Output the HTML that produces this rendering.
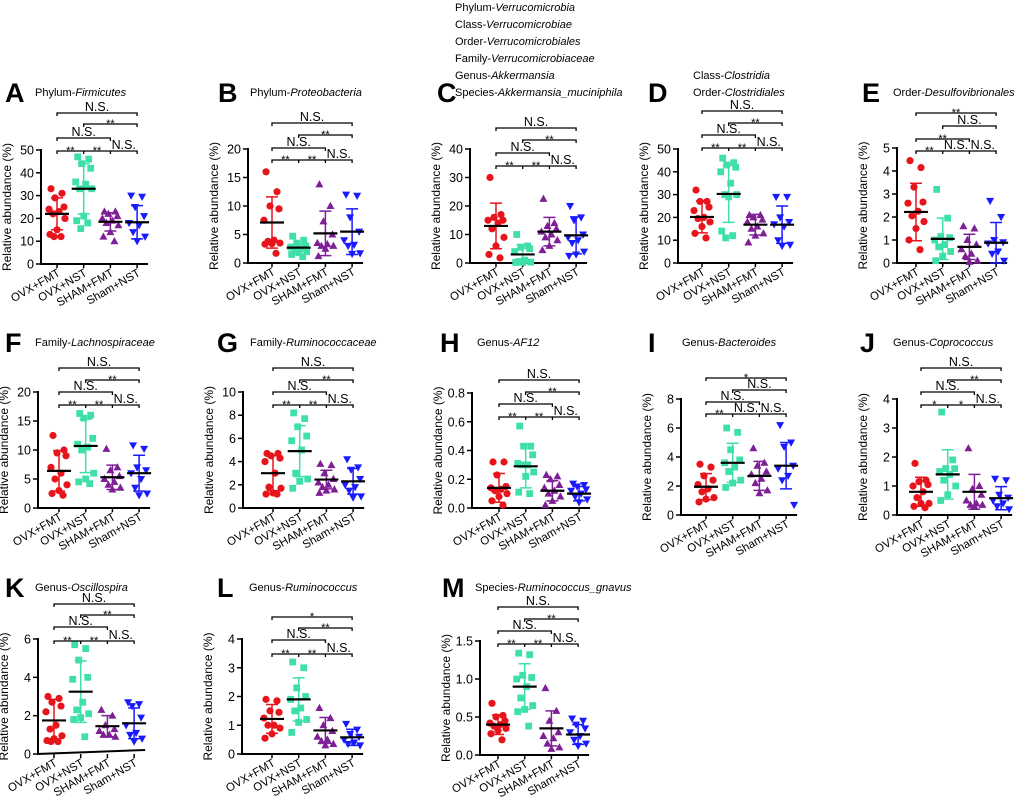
<!DOCTYPE html>
<html><head><meta charset="utf-8"><style>
body{margin:0;background:#fff}
svg{display:block;font-family:"Liberation Sans",Arial,sans-serif}
</style></head><body>
<svg id="fig" width="1020" height="804" viewBox="0 0 1020 804" xmlns="http://www.w3.org/2000/svg"></svg>
<script>
const categories=["OVX+FMT","OVX+NST","SHAM+FMT","Sham+NST"];
const colors=["#e8141c","#3ee0a8","#7e1f96","#1a1aff"];
// Panel data
const A_means=[22,33,18.5,18.3];const A_sd=[7,11,4,7.3];
const A_points=[[33,31,29,25,24,23,22,20,15,13,12,12],[47,46,44,42,36,35,33,33,21,19,18,15.5],[23,23,22,21,20,19,18,17,14,12,10],[30,29.5,25,21,18,17,14,12,10]];
const A_ticks=[0,10,20,30,40,50];const A_tickLabels=["0","10","20","30","40","50"];
const B_means=[7.1,2.7,5.2,5.5];const B_sd=[4.5,0.6,3.9,4];
const B_points=[[16,12.5,10,9.5,7.5,4,3.8,3.5,3.4,3.3,1.7],[4.7,4,3.5,3,2.8,2.5,2.2,2,1.8,1.5,1.1],[13.8,10,7.3,5,3.5,3.3,3,3,2.5,1.2],[12,11.8,8,5.5,4,3.2,3,1.7,1.6]];
const B_ticks=[0,5,10,15,20];const B_tickLabels=["0","5","10","15","20"];
const C_means=[13,3,11,9.7];const C_sd=[8,3.5,5,6.5];
const C_points=[[30,17,16,15,15,14,12,9,6,3,1.8],[10,6,5.5,5,4,1,0.5,0.3,0.2,0.2],[22.5,14,13,12,11,10,9,8,6,4.5],[20,16,15,10,9,8,7,4,3,2.5]];
const C_ticks=[0,10,20,30,40];const C_tickLabels=["0","10","20","30","40"];
const D_means=[20.2,30.3,16.8,16.8];const D_sd=[7,12.5,4.5,8.2];
const D_points=[[32,27,27,24.5,23,20,19.5,18,16,13,11],[46,44,43,42,40,35,30,30,29,14,12,11],[21,21,20,19,18,16,15,13,12,9],[29,29,20,18,17,16,10,8,7.5]];
const D_ticks=[0,10,20,30,40,50];const D_tickLabels=["0","10","20","30","40","50"];
const E_means=[2.22,1.05,0.7,0.88];const E_sd=[1.25,0.9,0.55,0.88];
const E_points=[[4.45,4.15,3.3,2.65,2.6,2.25,2.05,1.8,1.5,1.0,0.58],[3.2,1.95,1.15,1.1,1.0,0.8,0.7,0.5,0.3,0.1],[1.6,1.5,1.0,0.8,0.6,0.4,0.3,0.1,0.05],[2.7,2.0,1.0,0.9,0.85,0.5,0.4,0.1]];
const E_ticks=[0,1,2,3,4,5];const E_tickLabels=["0","1","2","3","4","5"];
const F_means=[6.4,10.7,5.3,6];const F_sd=[3.5,4.6,2.1,3.1];
const F_points=[[12.5,10,9.5,9,7,6,5,4,3,2.5,2.2],[16.3,16,15.5,12,11,10.5,10,6,5,4.5,4.2],[10.2,7,6.5,5.5,5,4.5,4,3.5,3.2],[10.8,10.2,7,6.5,6,5,3.5,2.5,2.2]];
const F_ticks=[0,5,10,15,20];const F_tickLabels=["0","5","10","15","20"];
const G_means=[3.0,4.9,2.45,2.3];const G_sd=[1.5,2.2,0.8,1.1];
const G_points=[[4.7,4.7,4.5,4.3,4.0,3.0,1.8,1.7,1.3,1.2,1.2],[8.2,7.7,7,6.2,5.8,5,3,2.5,2.3,1.7],[3.8,3.7,3,2.5,2.2,2,1.8,1.6,1.5,1.3],[4.2,3.5,3.3,2.5,2,1.8,1.5,1,0.9]];
const G_ticks=[0,2,4,6,8,10];const G_tickLabels=["0","2","4","6","8","10"];
const H_means=[0.14,0.29,0.12,0.10];const H_sd=[0.1,0.15,0.07,0.05];
const H_points=[[.32,.32,.23,.15,.14,.13,.12,.1,.08,.05,.02],[.57,.43,.43,.37,.31,.3,.3,.25,.22,.11,.1],[.23,.22,.2,.16,.14,.12,.1,.08,.05,.02],[.17,.16,.15,.13,.12,.1,.08,.06,.04]];
const H_ticks=[0,0.2,0.4,0.6,0.8];const H_tickLabels=["0.0","0.2","0.4","0.6","0.8"];
const I_means=[1.95,3.6,2.7,3.4];const I_sd=[0.9,1.35,1.0,1.6];
const I_points=[[3.5,3.3,2.7,2.4,2.1,1.8,1.6,1.2,1.1,0.9],[6,5.7,4.5,3.8,3.6,3.3,3,2.4,2.2,1.9],[4.6,3.6,3.4,3,2.8,2.5,2.2,1.7,1.5],[6.2,5,4.7,3.4,3.2,2.7,2.4,0.7]];
const I_ticks=[0,2,4,6,8];const I_tickLabels=["0","2","4","6","8"];
const J_means=[0.8,1.4,0.8,0.58];const J_sd=[0.5,0.85,0.6,0.4];
const J_points=[[1.78,1.2,1.15,1.05,1.0,.8,.6,.4,.4,.3,.25],[3.55,1.9,1.6,1.6,1.5,1.4,1.2,1.0,.7,.5],[2.3,1.0,.9,.7,.5,.4,.35,.35,.3],[1.25,1.2,.7,.6,.5,.4,.3,.2]];
const J_ticks=[0,1,2,3,4];const J_tickLabels=["0","1","2","3","4"];
const K_means=[1.75,3.25,1.45,1.6];const K_sd=[1.1,1.6,0.55,0.8];
const K_points=[[3,2.9,2.7,2.5,2.2,1.5,1.3,0.95,0.8,0.7,0.65,0.65],[5.7,5.5,4.9,4,3.9,2.7,2.3,2.1,1.9,1.8,0.9],[2.3,2.0,1.5,1.3,1.2,1.0,1.0,0.9],[2.7,2.6,2.5,1.9,1.5,1.1,1.0,0.8,0.65]];
const K_ticks=[0,2,4,6];const K_tickLabels=["0","2","4","6"];
const L_means=[1.22,1.9,0.82,0.58];const L_sd=[0.5,0.75,0.45,0.28];
const L_points=[[1.9,1.85,1.5,1.45,1.25,1.0,1.0,.9,.7,.55],[3.2,3.0,2.3,2.0,1.9,1.6,1.5,1.2,1.1,.75],[1.6,1.25,1.0,.8,.6,.5,.45,.35,.3],[1.05,.85,.7,.6,.5,.4,.35,.3]];
const L_ticks=[0,1,2,3,4];const L_tickLabels=["0","1","2","3","4"];
const M_means=[0.4,0.9,0.35,0.27];const M_sd=[0.13,0.3,0.23,0.13];
const M_points=[[.68,.52,.5,.45,.42,.4,.38,.35,.32,.28,.2],[1.34,1.32,1.05,1.02,1.0,.9,.75,.65,.6,.57,.38],[.88,.58,.45,.3,.25,.22,.15,.1,.08],[.48,.45,.4,.35,.3,.25,.2,.15,.12]];
const M_ticks=[0,0.5,1.0,1.5];const M_tickLabels=["0.0","0.5","1.0","1.5"];
const sigStd=[["**","**","N.S."],"N.S.","**","N.S."];

const NS="http://www.w3.org/2000/svg";
const svg=document.getElementById('fig');
function mk(tag,attrs,parent,text){const e=document.createElementNS(NS,tag);for(const k in attrs)e.setAttribute(k,attrs[k]);if(text!==undefined)e.textContent=text;(parent||svg).appendChild(e);return e;}

const panels=[
 {id:"a",L:"A",ax:41,g0:57,top:150,zero:264,max:50,m:A_means,sd:A_sd,p:A_points,t:A_ticks,tl:A_tickLabels,br:[151,138,124,113],sig:sigStd,lx:5,tx:35,ty:92,title:[["Phylum-",["Firmicutes"]]]},
 {id:"b",L:"B",ax:248,g0:272,top:149,zero:263,max:20,m:B_means,sd:B_sd,p:B_points,t:B_ticks,tl:B_tickLabels,br:[160,148,135,123],sig:sigStd,lx:218,tx:250,ty:92,title:[["Phylum-",["Proteobacteria"]]]},
 {id:"c",L:"C",ax:470,g0:496,top:149,zero:263,max:40,m:C_means,sd:C_sd,p:C_points,t:C_ticks,tl:C_tickLabels,br:[166,153,140,128],sig:sigStd,lx:437,tx:455,ty:92,title:[["Phylum-",["Verrucomicrobia"]],["Class-",["Verrucomicrobiae"]],["Order-",["Verrucomicrobiales"]],["Family-",["Verrucomicrobiaceae"]],["Genus-",["Akkermansia"]],["Species-",["Akkermansia_muciniphila"]]]},
 {id:"d",L:"D",ax:678,g0:702,top:149,zero:263,max:50,m:D_means,sd:D_sd,p:D_points,t:D_ticks,tl:D_tickLabels,br:[148,135,123,111],sig:sigStd,lx:648,tx:693,ty:92,title:[["Class-",["Clostridia"]],["Order-",["Clostridiales"]]]},
 {id:"e",L:"E",ax:897,g0:916,top:148,zero:263,max:5,m:E_means,sd:E_sd,p:E_points,t:E_ticks,tl:E_tickLabels,br:[151,139,126,113],sig:[["**","N.S.","N.S."],"**","N.S.","**"],lx:862,tx:893,ty:92,title:[["Order-",["Desulfovibrionales"]]]},
 {id:"f",L:"F",ax:38,g0:59,top:392,zero:508,max:20,m:F_means,sd:F_sd,p:F_points,t:F_ticks,tl:F_tickLabels,br:[405,392,380,368],sig:sigStd,lx:5,tx:35,ty:342,title:[["Family-",["Lachnospiraceae"]]]},
 {id:"g",L:"G",ax:243,g0:273,top:392,zero:508,max:10,m:G_means,sd:G_sd,p:G_points,t:G_ticks,tl:G_tickLabels,br:[405,392,380,368],sig:sigStd,lx:217,tx:250,ty:342,title:[["Family-",["Ruminococcaceae"]]]},
 {id:"h",L:"H",ax:472,g0:499,top:393,zero:508,max:0.8,m:H_means,sd:H_sd,p:H_points,t:H_ticks,tl:H_tickLabels,br:[417,404,392,380],sig:sigStd,lx:440,tx:477,ty:342,title:[["Genus-",["AF12"]]]},
 {id:"i",L:"I",ax:681,g0:706,top:399,zero:515,max:8,m:I_means,sd:I_sd,p:I_points,t:I_ticks,tl:I_tickLabels,br:[414,402,390,378],sig:[["**","N.S.","N.S."],"N.S.","N.S.","*"],lx:648,tx:682,ty:342,title:[["Genus-",["Bacteroides"]]]},
 {id:"j",L:"J",ax:897,g0:921,top:399,zero:515,max:4,m:J_means,sd:J_sd,p:J_points,t:J_ticks,tl:J_tickLabels,br:[405,392,380,368],sig:[["*","*","N.S."],"N.S.","**","N.S."],lx:860,tx:893,ty:342,title:[["Genus-",["Coprococcus"]]]},
 {id:"k",L:"K",ax:38,g0:54,top:639,zero:754,max:6,m:K_means,sd:K_sd,p:K_points,t:K_ticks,tl:K_tickLabels,br:[641,627,615,604],sig:sigStd,lx:5,tx:35,ty:587,title:[["Genus-",["Oscillospira"]]]},
 {id:"l",L:"L",ax:242,g0:272,top:639,zero:754,max:4,m:L_means,sd:L_sd,p:L_points,t:L_ticks,tl:L_tickLabels,br:[654,640,628,617],sig:[["**","**","N.S."],"N.S.","**","*"],lx:217,tx:249,ty:587,title:[["Genus-",["Ruminococcus"]]]},
 {id:"m",L:"M",ax:480,g0:498,top:641,zero:755,max:1.5,m:M_means,sd:M_sd,p:M_points,t:M_ticks,tl:M_tickLabels,br:[644,631,619,607],sig:sigStd,lx:442,tx:475,ty:587,title:[["Species-",["Ruminococcus_gnavus"]]]}
];
const jit=[-6,5,-2,7,-8,2,-4,8,0,-7,4,-3];

panels.forEach(P=>{
  const g=mk('g',{});
  
  
  const y=v=>P.zero-(v/P.max)*(P.zero-P.top);
  const gx=i=>P.g0+26.7*i;
  const lt=mk('text',{x:P.lx,y:P.ty+10,'font-size':27,'font-weight':'bold'},g,P.L);
  
  
  const n=P.title.length;
  P.title.forEach((ln,k)=>{
    const t=mk('text',{x:P.tx,y:P.ty+4-(n-1-k)*17,'font-size':11},g);
    
    
    mk('tspan',{},t,ln[0]);
    mk('tspan',{'font-style':'italic'},t,ln[1][0]);
  });
  mk('line',{x1:P.ax,y1:P.top-1,x2:P.ax,y2:P.zero+1,stroke:'#000','stroke-width':2},g);
  const xa=mk('line',{x1:P.ax-1,y1:P.zero,x2:gx(3)+11,y2:P.id==='k'?P.zero-4:P.zero,stroke:'#000','stroke-width':2},g);
  
  
  P.t.forEach((v,k)=>{
    mk('line',{x1:P.ax-5,y1:y(v),x2:P.ax,y2:y(v),stroke:'#000','stroke-width':1.5},g);
    const tl=mk('text',{x:P.ax-7,y:y(v)+4.5,'font-size':12.5,'text-anchor':'end'},g,P.tl[k]);
    
    
  });
  const yt=mk('text',{x:0,y:0,'font-size':12,'text-anchor':'middle',transform:`translate(${P.ax-30},${(P.top+P.zero)/2}) rotate(-90)`},g,'Relative abundance (%)');
  
  
  categories.forEach((c,i)=>{
    mk('line',{x1:gx(i),y1:P.zero,x2:gx(i),y2:P.zero+4,stroke:'#000','stroke-width':1.5},g);
    const xl=mk('text',{x:0,y:0,'font-size':11.5,'text-anchor':'end',transform:`translate(${gx(i)+4},${P.zero+11}) rotate(-30)`},g,c);
    
    
  });
  categories.forEach((c,i)=>{
    const col=colors[i],x=gx(i);
    P.p[i].forEach((v,k)=>{
      const px=x+jit[k%jit.length],py=y(v);let m;
      if(i===0)m=mk('circle',{cx:px,cy:py,r:3.6,fill:col},g);
      else if(i===1)m=mk('rect',{x:px-3.4,y:py-3.4,width:6.8,height:6.8,fill:col},g);
      else if(i===2)m=mk('polygon',{points:`${px},${py-4.2} ${px+4},${py+3} ${px-4},${py+3}`,fill:col},g);
      else m=mk('polygon',{points:`${px},${py+4.2} ${px+4},${py-3} ${px-4},${py-3}`,fill:col},g);
      
      
    });
    const hi=y(P.m[i]+P.sd[i]),lo=y(Math.max(0,P.m[i]-P.sd[i]));
    const eb=mk('path',{d:`M${x},${hi}V${lo}M${x-6},${hi}H${x+6}M${x-6},${lo}H${x+6}`,stroke:col,'stroke-width':1.5,fill:'none'},g);
    
    
    const mb=mk('line',{x1:x-12,y1:y(P.m[i]),x2:x+12,y2:y(P.m[i]),stroke:'#000','stroke-width':2.2},g);
    
    
  });
  const spans=[[0,3],[0,2],[1,3],[0,3]];
  spans.forEach((s,lv)=>{
    const by=P.br[lv],x1=gx(s[0]),x2=gx(s[1]);
    let d=`M${x1},${by+3}V${by}H${x2}V${by+3}`;
    if(lv===0)d+=`M${gx(1)},${by}v3M${gx(2)},${by}v3`;
    const b=mk('path',{d,stroke:'#000','stroke-width':1.3,fill:'none'},g);
    
    
    const labs=lv===0?P.sig[0].map((l,k)=>[l,(gx(k)+gx(k+1))/2]):[[P.sig[lv],(x1+x2)/2]];
    labs.forEach(([l,cx])=>{
      const st=l==='N.S.';
      const t=mk('text',{x:cx,y:st?by-2:by+3,'font-size':st?12.5:11,'text-anchor':'middle'},g,l);
      
      
    });
  });
});
</script>
</body></html>
